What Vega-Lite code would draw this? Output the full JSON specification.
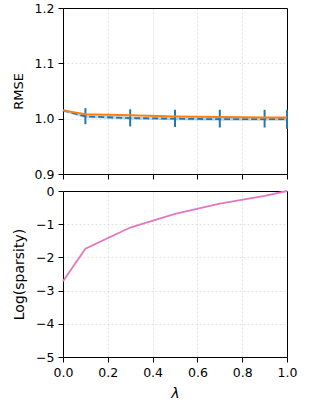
{
  "$schema": "https://vega.github.io/schema/vega-lite/v6.json",
  "padding": {"left": 12, "top": 2, "right": 5, "bottom": 5},
  "background": "white",
  "config": {
    "font": "DejaVu Sans",
    "view": {"stroke": null},
    "axis": {
      "domainColor": "black",
      "domainWidth": 1,
      "tickColor": "black",
      "tickSize": 5,
      "labelPadding": 4,
      "labelFontSize": 12.5,
      "labelColor": "black",
      "labelFlush": false,
      "titleColor": "black",
      "titleFontWeight": "normal",
      "gridColor": "#dcdcdc",
      "gridDash": [2, 2],
      "gridWidth": 0.8
    }
  },
  "datasets": {
    "d": [
      {"lam": 0.0, "blue": 1.015, "orange": 1.015, "lo": null, "hi": null, "sparsity": -2.72},
      {"lam": 0.1, "blue": 1.004, "orange": 1.008, "lo": 0.990, "hi": 1.019, "sparsity": -1.74},
      {"lam": 0.3, "blue": 1.001, "orange": 1.006, "lo": 0.986, "hi": 1.017, "sparsity": -1.1},
      {"lam": 0.5, "blue": 1.000, "orange": 1.004, "lo": 0.985, "hi": 1.016, "sparsity": -0.69},
      {"lam": 0.7, "blue": 0.999, "orange": 1.003, "lo": 0.984, "hi": 1.016, "sparsity": -0.38},
      {"lam": 0.9, "blue": 0.999, "orange": 1.002, "lo": 0.984, "hi": 1.016, "sparsity": -0.15},
      {"lam": 1.0, "blue": 0.999, "orange": 1.002, "lo": 0.982, "hi": 1.016, "sparsity": 0.0}
    ]
  },
  "vconcat": [
    {
      "width": 224,
      "height": 166,
      "data": {"name": "d"},
      "resolve": {"axis": {"x": "independent", "y": "independent"}},
      "layer": [
        {
          "mark": {"type": "line", "color": "#1f77b4", "opacity": 0.3, "strokeWidth": 3},
          "encoding": {
            "x": {"field": "lam", "type": "quantitative", "scale": {"domain": [0, 1], "nice": false},
                  "axis": {"labels": false, "title": null, "values": [0, 0.2, 0.4, 0.6, 0.8, 1.0],
                           "gridOpacity": {"condition": {"test": "datum.value >= 1 || datum.value <= 0", "value": 0}, "value": 1}}},
            "y": {"field": "blue", "type": "quantitative", "scale": {"domain": [0.9, 1.2], "nice": false, "zero": false},
                  "axis": {"title": "RMSE", "titleFontSize": 13, "titlePadding": 9, "values": [0.9, 1.0, 1.1, 1.2], "format": ".1f",
                           "gridOpacity": {"condition": {"test": "datum.value >= 1.19 || datum.value <= 0.91", "value": 0}, "value": 1}}}
          }
        },
        {
          "mark": {"type": "line", "color": "#1f77b4", "strokeWidth": 1.8, "strokeDash": [6, 3]},
          "encoding": {
            "x": {"field": "lam", "type": "quantitative",
                  "axis": {"orient": "top", "labels": false, "ticks": false, "grid": false, "title": null, "domain": true}},
            "y": {"field": "blue", "type": "quantitative",
                  "axis": {"orient": "right", "labels": false, "ticks": false, "grid": false, "title": null, "domain": true}}
          }
        },
        {
          "transform": [{"filter": "datum.lo != null"}],
          "mark": {"type": "rule", "color": "#1f77b4", "strokeWidth": 2},
          "encoding": {
            "x": {"field": "lam", "type": "quantitative", "axis": null},
            "y": {"field": "lo", "type": "quantitative", "axis": null},
            "y2": {"field": "hi"}
          }
        },
        {
          "mark": {"type": "line", "color": "#ff7f0e", "strokeWidth": 2},
          "encoding": {
            "x": {"field": "lam", "type": "quantitative", "axis": null},
            "y": {"field": "orange", "type": "quantitative", "axis": null}
          }
        }
      ]
    },
    {
      "width": 224,
      "height": 166,
      "data": {"name": "d"},
      "resolve": {"axis": {"x": "independent", "y": "independent"}},
      "layer": [
        {
          "mark": {"type": "line", "color": "#e377c2", "strokeWidth": 1.8},
          "encoding": {
            "x": {"field": "lam", "type": "quantitative", "scale": {"domain": [0, 1], "nice": false},
                  "axis": {"title": "λ", "titleFontSize": 14, "titleFontStyle": "italic", "titlePadding": 8, "values": [0, 0.2, 0.4, 0.6, 0.8, 1.0], "format": ".1f",
                           "gridOpacity": {"condition": {"test": "datum.value >= 1 || datum.value <= 0", "value": 0}, "value": 1}}},
            "y": {"field": "sparsity", "type": "quantitative", "scale": {"domain": [-5, 0], "nice": false},
                  "axis": {"title": "Log(sparsity)", "titleFontSize": 14, "titlePadding": 9, "values": [-5, -4, -3, -2, -1, 0],
                           "gridOpacity": {"condition": {"test": "datum.value >= 0 || datum.value <= -5", "value": 0}, "value": 1}}}
          }
        },
        {
          "mark": {"type": "line", "opacity": 0},
          "encoding": {
            "x": {"field": "lam", "type": "quantitative",
                  "axis": {"orient": "top", "labels": false, "ticks": false, "grid": false, "title": null, "domain": true}},
            "y": {"field": "sparsity", "type": "quantitative",
                  "axis": {"orient": "right", "labels": false, "ticks": false, "grid": false, "title": null, "domain": true}}
          }
        }
      ]
    }
  ],
  "spacing": 4
}
